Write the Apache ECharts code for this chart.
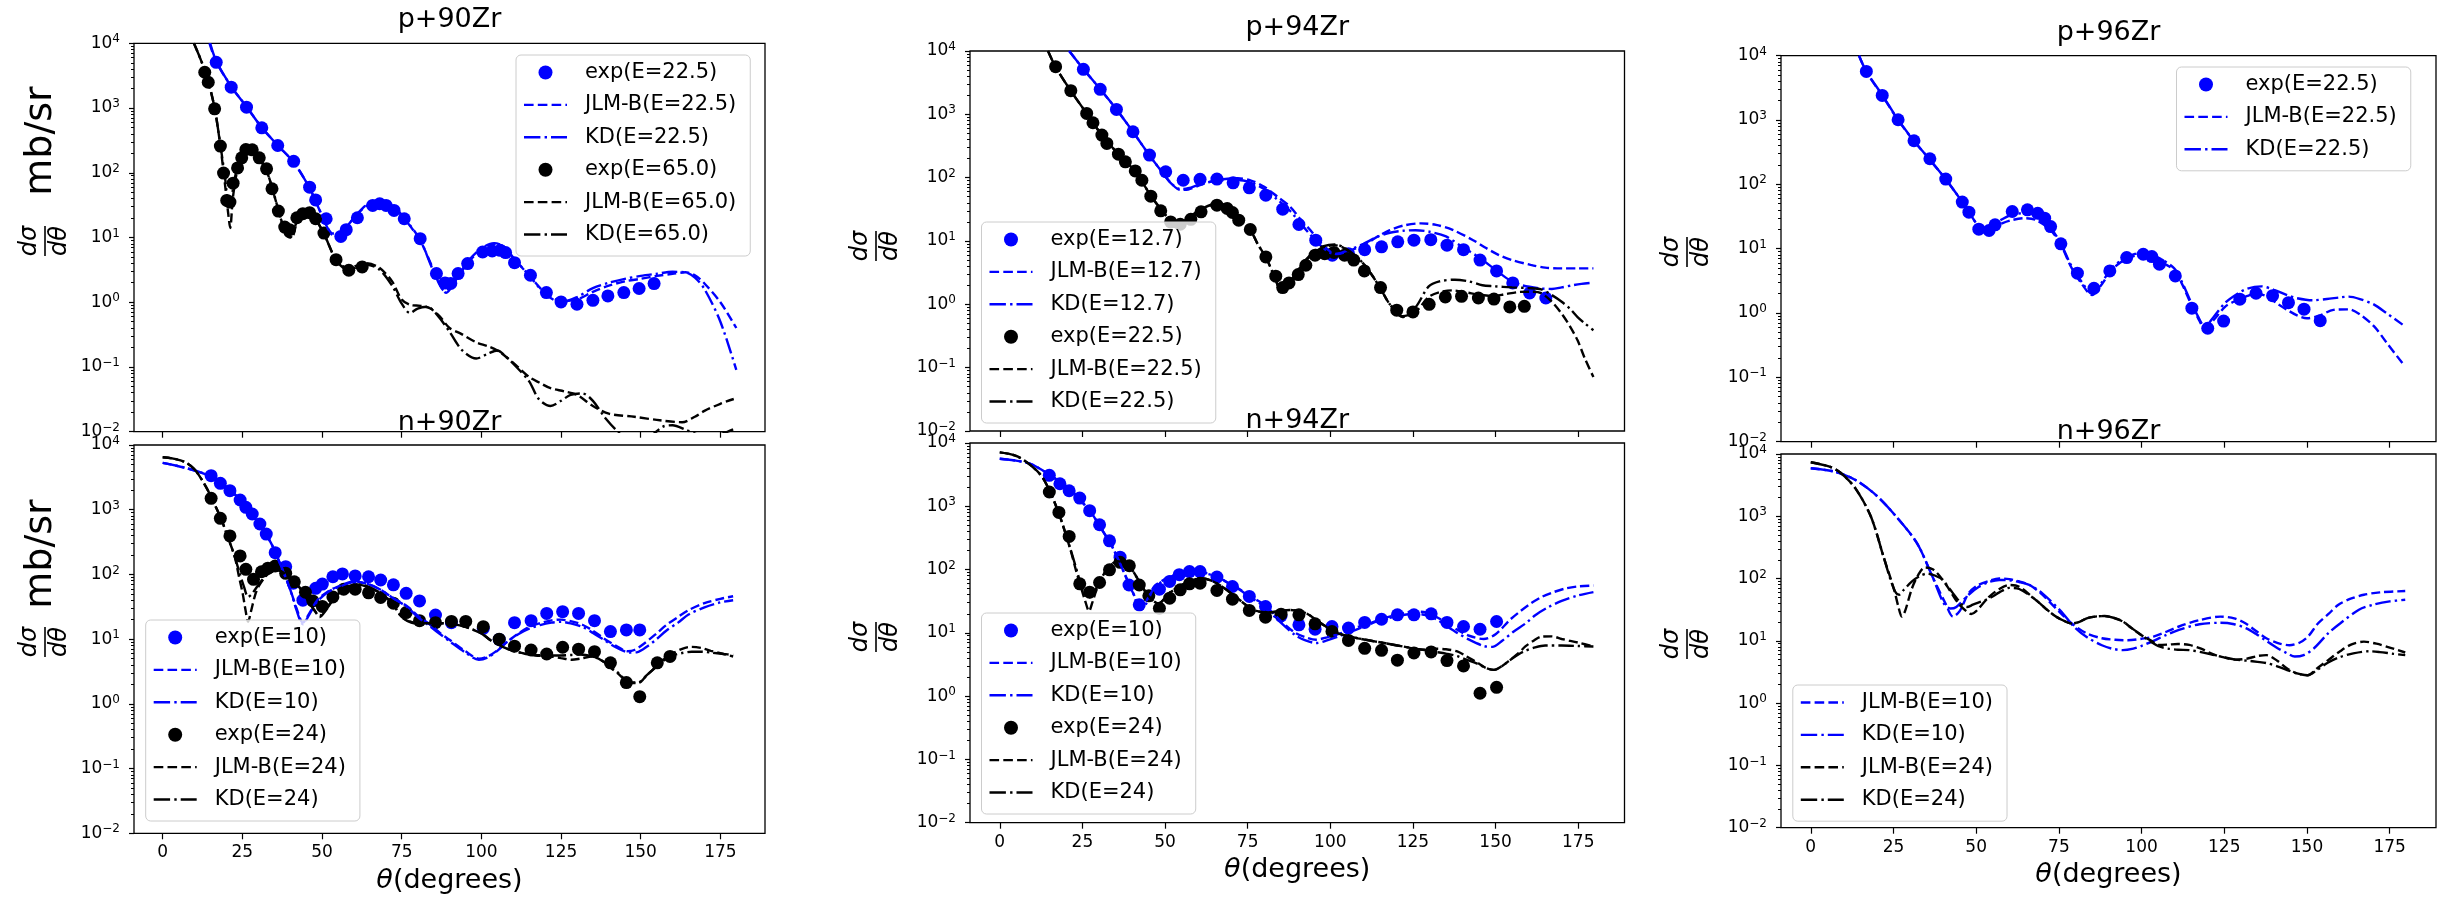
<!DOCTYPE html>
<html><head><meta charset="utf-8">
<script src="https://cdn.jsdelivr.net/npm/echarts@6/dist/echarts.min.js"></script>
<style>html,body{margin:0;padding:0;background:#fff}#c{width:2445px;height:900px}</style>
</head><body><div id="c"></div>
<script>
// ---------------- DATA ----------------
const X_TICKS = [0, 25, 50, 75, 100, 125, 150, 175];
const Y_MINOR_TICKS = [0.02,0.03,0.04,0.05,0.06,0.07,0.08,0.09,0.2,0.3,0.4,0.5,0.6,0.7,0.8,0.9,2,3,4,5,6,7,8,9,20,30,40,50,60,70,80,90,200,300,400,500,600,700,800,900,2000,3000,4000,5000,6000,7000,8000,9000];
const PANEL_TITLES = ['p+90Zr', 'p+94Zr', 'p+96Zr', 'n+90Zr', 'n+94Zr', 'n+96Zr'];

// p+90Zr
const p90_exp_E22_5 = [[16.8,5090],[21.5,2100],[26.3,1030],[31.1,494],[36.1,264],[41.1,150],[46.1,60],[48.0,38],[51.3,19.5],[55.9,10.4],[57.6,13.2],[61.1,20.2],[65.9,31.3],[68.1,33.2],[70.1,31.3],[72.6,26.2],[75.8,19.5],[80.8,9.6],[85.9,2.77],[88.6,1.99],[90.4,1.95],[92.7,2.77],[95.7,3.95],[100.4,5.97],[103.4,6.19],[105.9,6.34],[107.6,5.84],[110.4,4.09],[115.4,2.61],[120.4,1.41],[125.0,1.01],[130.0,0.93],[135.0,1.07],[139.7,1.25],[144.7,1.41],[149.5,1.63],[154.2,1.94]];
const p90_jlm_E22_5 = [[14.7,10000],[16.8,5200],[21.5,2150],[26.3,1050],[31.1,500],[36.1,265],[41.1,145],[46.1,58],[50,22],[53.5,11.5],[56,12],[60,20],[64,31],[68.4,36],[72,31],[76,19],[80.8,9],[85,3.2],[89,1.4],[92,2.2],[96,4.2],[100,6.5],[104,8],[107,7.2],[110,4.8],[115,2.6],[120,1.4],[125,1.05],[130,1.1],[135,1.45],[140,1.8],[145,2.1],[150,2.3],[155,2.55],[160,2.75],[164,2.9],[167,2.6],[170,1.95],[175,1.0],[180,0.4]];
const p90_kd_E22_5 = [[14.9,10000],[16.8,5300],[21.5,2150],[26.3,1050],[31.1,500],[36.1,265],[41.1,145],[46.1,58],[50,22],[53.5,11],[56,11.8],[60,20],[64,32],[68.4,37],[72,32],[76,19.5],[80.8,9.2],[85,3.0],[88.5,1.5],[92,2.3],[96,4.4],[100,6.8],[104,8.2],[107,7.3],[110,4.9],[115,2.6],[120,1.35],[125,1.0],[130,1.2],[135,1.65],[140,2.0],[145,2.3],[150,2.55],[155,2.75],[160,2.95],[164,2.9],[167,2.4],[170,1.6],[175,0.5],[180,0.09]];
const p90_exp_E65_0 = [[13.2,3570],[14.3,2500],[16.3,971],[18.1,258],[19.1,99],[20.1,37.4],[21.1,35.3],[22.1,69],[23.5,119],[24.8,170],[26.1,229],[28.1,226],[30.3,170],[32.6,115],[34.3,56.6],[36.3,25.6],[38.3,14.5],[39.8,13.2],[42.1,20.2],[44.0,23.3],[46.1,24.2],[48.0,19.5],[50.6,11.7],[54.4,4.55],[58.4,3.12],[62.6,3.51]];
const p90_jlm_E65_0 = [[9.8,10000],[12,5500],[14,2900],[16.3,1000],[18.1,260],[19.5,70],[20.5,25],[21.2,14],[22,40],[23.5,115],[25,180],[27,230],[29,210],[31,150],[33,95],[35,45],[37,20],[39,11],[40.5,10],[42,16],[44,22],[46,23],[48,19],[50.6,11.5],[54.4,4.6],[58,3.4],[62,3.8],[64,4.0],[68,3.4],[72,2.1],[75,1.1],[78,0.9],[81,0.88],[84,0.8],[87,0.6],[90,0.4],[93.4,0.33],[98.4,0.24],[102,0.21],[105,0.18],[108,0.14],[111,0.105],[115,0.07],[118,0.058],[121.7,0.047],[126,0.042],[130,0.037],[135,0.025],[140,0.019],[148,0.017],[156,0.015],[163,0.014],[167,0.017],[170,0.021],[175,0.027],[179.2,0.032]];
const p90_kd_E65_0 = [[9.8,10000],[12,5500],[14,2900],[16.3,1000],[18.1,270],[19.5,90],[20.7,35],[21.5,40],[23,100],[25,180],[27,235],[29,215],[31,150],[33,95],[35,45],[37,20],[38.5,11],[40,10],[42,17],[44,23],[46,24],[48,19],[50.6,11.5],[54.4,4.5],[58,3.2],[62,3.6],[64,3.8],[68,3.2],[72,1.8],[75,0.95],[77.6,0.68],[80,0.8],[83,0.85],[86,0.65],[90,0.35],[94,0.18],[98.4,0.135],[102,0.16],[105,0.18],[108,0.14],[111,0.1],[115,0.06],[118,0.032],[121.7,0.025],[125,0.03],[128,0.037],[131.7,0.039],[135,0.03],[139,0.016],[143.4,0.0095],[148,0.007],[153,0.0085],[157,0.012],[160,0.0126],[164,0.0108],[168,0.009],[172,0.0085],[176,0.0095],[179.2,0.011]];

// p+94Zr
const p94_exp_E12_7 = [[25.3,5130],[30.4,2480],[35.3,1197],[40.3,531],[45.3,227],[50.2,124],[55.5,91],[60.6,94],[65.7,95],[70.6,83],[75.5,69],[80.5,53],[85.6,31.8],[90.5,18.2],[95.6,10.3],[100.6,5.97],[105.5,6.3],[110.4,7.3],[115.5,8.1],[120.4,9.7],[125.3,10.3],[130.4,10.5],[135.3,8.6],[140.3,7.3],[145.3,5.0],[150.3,3.37],[155.2,2.18],[160.3,1.51],[165.2,1.26]];
const p94_jlm_E12_7 = [[21,10000],[25.3,5200],[30.4,2500],[35.3,1200],[40.3,530],[45.3,225],[49.8,110],[52,80],[54.6,64],[57,65],[61,78],[66,92],[72,98],[76,90],[80,72],[84,50],[87.8,35],[91,22],[94,14.8],[97,9.5],[100,6.8],[102,6.2],[105,6.8],[110,8.5],[114,11.5],[118,14.8],[122,17.5],[127.4,19],[132,18],[137,15],[143.2,10.3],[147,7.8],[151,6],[155,5],[160.6,4.2],[165,3.8],[170,3.7],[175,3.7],[179.6,3.7]];
const p94_kd_E12_7 = [[21,10000],[25.3,5200],[30.4,2500],[35.3,1200],[40.3,530],[45.3,225],[49.8,110],[52,80],[54.6,66],[57,68],[61,80],[66,90],[72,92],[76,84],[80,66],[84,45],[87.8,30],[91,19],[94,12.5],[97,8.5],[100,6.5],[102,6.3],[105,7],[110,9],[114,11.5],[118,13.5],[122,14.5],[125.8,14.8],[130,14],[135,11.8],[140,8],[144.8,5.6],[150,3.5],[154.3,2.4],[158,2.0],[163.8,1.78],[167,1.75],[170,1.85],[173.3,2.0],[176,2.1],[179.6,2.2]];
const p94_exp_E22_5 = [[16.9,5650],[21.5,2360],[26.3,1035],[28.2,737],[30.9,470],[32.4,347],[35.9,235],[38.0,178],[41.0,128],[43.0,91],[45.7,51],[48.7,30],[51.7,20],[54.6,18.4],[57.8,22],[60.9,28.9],[65.7,36.8],[68.8,32.6],[70.4,28.2],[72.3,21.3],[75.8,15.2],[80.5,5.6],[83.5,2.78],[85.6,1.84],[87.5,2.18],[90.3,2.95],[92.6,4.14],[95.4,5.97],[98.3,6.3],[101.1,6.6],[104.3,5.97],[107.1,5.0],[110.3,3.37],[115.2,1.84],[120.1,0.81],[125.0,0.76],[129.9,1.0],[134.8,1.31],[139.7,1.34],[144.8,1.26],[149.5,1.21],[154.3,0.91],[158.7,0.93]];
const p94_jlm_E22_5 = [[14.6,10000],[16.9,5600],[21.5,2350],[26.3,1030],[30.9,470],[35.9,235],[41,125],[45.7,52],[49.8,27],[53,20],[56,21],[60,30],[65.7,39],[69,35],[72.3,23],[75.8,15],[78,9],[80.7,5.3],[83,2.8],[85.4,1.6],[88,2.2],[91,3.9],[95,6.5],[98,8],[101.3,8.6],[104,7.8],[107,6],[110,4.4],[113,2.7],[115.5,1.66],[118,1.0],[121.8,0.65],[125.8,0.76],[129.7,1.3],[133,1.55],[137,1.66],[141,1.55],[145,1.42],[149.5,1.35],[153,1.45],[157.4,1.57],[161,1.58],[163.8,1.5],[167,1.1],[170,0.71],[172.5,0.45],[174.8,0.27],[177,0.14],[179.6,0.071]];
const p94_kd_E22_5 = [[14.6,10000],[16.9,5600],[21.5,2350],[26.3,1030],[30.9,470],[35.9,235],[41,125],[45.7,52],[49.8,27],[53,16.6],[56,19],[60,28],[65.7,39],[69,35],[72.3,23],[75.8,15],[78,9],[80.7,5.3],[83,2.8],[85.4,1.57],[88,2.3],[91,4],[95,6.8],[98,8.3],[101.3,8.8],[104,8],[107,6.2],[110,4.4],[113,2.7],[115.5,1.66],[118,1.0],[121.8,0.63],[125.8,0.9],[129.7,1.9],[133,2.3],[137.7,2.45],[142,2.3],[146,2.0],[149.5,1.93],[155,1.85],[160,1.8],[163.8,1.72],[167,1.4],[170,1.1],[172.5,0.85],[174.8,0.63],[177,0.5],[179.6,0.39]];

// p+96Zr
const p96_exp_E22_5 = [[16.8,5700],[21.6,2415],[26.4,1010],[31.2,476],[36.0,250],[40.8,121],[45.8,53],[47.8,37],[50.8,20.1],[53.9,19.2],[55.7,23.5],[60.9,37.9],[65.5,40.2],[68.6,35.6],[70.7,29.8],[72.5,22.1],[75.6,11.9],[80.6,4.16],[85.6,2.43],[90.4,4.52],[95.5,7.29],[100.5,8.2],[103.1,7.55],[105.4,5.74],[110.2,3.78],[115.2,1.19],[120.0,0.58],[124.8,0.75],[129.7,1.64],[134.6,2.03],[139.6,1.86],[144.4,1.45],[149.1,1.15],[154.0,0.76]];
const p96_jlm_E22_5 = [[14.6,10000],[16.8,5600],[21.6,2400],[26.4,1000],[31.2,470],[35.2,270],[40.8,120],[44.6,65],[48,36],[50,25],[52.3,19.5],[55,21],[58,25],[61,28],[64.8,29.8],[68,28],[72.5,19.5],[75.6,11.5],[78.7,5.2],[82,2.8],[85,1.9],[88,2.8],[91,4.7],[95,6.8],[98,7.8],[101.2,8],[105,6.5],[109.8,4.7],[112,3],[114.4,1.6],[117,0.85],[119.1,0.58],[122,0.8],[125.3,1.26],[129,1.6],[132,1.85],[134.6,2.0],[138,1.8],[141,1.4],[144,1.12],[147,0.92],[150,0.83],[154,0.92],[158,1.12],[162.6,1.14],[166,0.95],[170.3,0.62],[174,0.35],[178.9,0.165]];
const p96_kd_E22_5 = [[14.6,10000],[16.8,5700],[21.6,2450],[26.4,1010],[31.2,475],[35.2,270],[40.8,120],[44.6,65],[48,36],[50,25],[52.3,20.5],[55,23],[58,29],[61,34],[64.8,35.6],[68,33],[72.5,21],[75.6,12],[78.7,5.5],[82,3],[85,2.0],[88,3],[91,5],[95,7.2],[98,8.3],[101.2,8.6],[105,7.3],[109.8,5],[112,3.2],[114.4,1.7],[117,0.9],[119.1,0.62],[122,0.9],[125.3,1.45],[129,2.0],[132,2.4],[136.2,2.6],[140,2.3],[144,1.9],[147,1.7],[151.7,1.58],[156,1.65],[160,1.75],[162.6,1.8],[166,1.65],[170.3,1.35],[174,1.0],[178.9,0.66]];

// n+90Zr
const n90_exp_E10 = [[15.2,3360],[18.1,2560],[21.1,1970],[24.3,1413],[26.1,1089],[28.1,859],[30.5,601],[32.5,421],[35.3,217],[38.6,132],[41.0,73],[44.0,40],[48.0,61],[50.1,71],[53.4,92],[56.4,102],[60.4,95],[64.6,92],[68.4,82],[72.4,69],[76.4,51],[80.6,39],[85.6,23.6],[90.6,18],[100.6,14.7],[105.6,9.9],[110.4,18],[115.6,19.3],[120.5,25],[125.5,26.6],[130.5,25],[135.5,19.3],[140.5,13.1],[145.5,13.9],[149.7,13.9]];
const n90_jlm_E10 = [[0,5300],[7.7,4360],[15.2,3240],[21.8,1900],[28.5,780],[33.5,340],[36.8,148],[40.1,57],[42,30],[44,18],[46,25],[48.5,40],[52,55],[55,65],[60,78],[64,72],[68.4,58],[72,44],[76.8,32],[80,23],[83.4,17.6],[87,12.5],[90,9.8],[95,6.5],[99.2,5.0],[102,5.4],[105,6.7],[108,9],[111.7,12.3],[115,15.5],[118.4,17.6],[122,19.5],[125,20],[128,19],[131.7,16.7],[135,13.5],[138.4,10.3],[142,8],[146,6.5],[148,6.8],[151,8.5],[155,12.3],[158,16.5],[161.7,22],[165,28],[170,36],[175,42],[179,46]];
const n90_kd_E10 = [[0,5300],[7.7,4360],[15.2,3240],[21.8,1900],[28.5,780],[33.5,340],[36.8,148],[40.1,57],[42,28],[44,17],[46,24],[48.5,38],[52,54],[55,63],[60,76],[64,72],[68.4,58],[72,44],[76.8,31],[80,22],[83.4,16.5],[87,12],[90,9.3],[95,6.2],[99.2,4.8],[102,5.2],[105,6.6],[108,9],[111.7,12],[115,14.5],[118.4,16.5],[122,18],[125,18.5],[128,17.5],[131.7,15.5],[135,12.5],[138.4,9.8],[142,7.6],[146.7,6.2],[149,6.3],[152,7.7],[155,10],[158,13.5],[161.7,18],[165,24],[170,31],[175,37],[179,40]];
const n90_exp_E24 = [[15.2,1500],[18.1,736],[21.1,393],[24.3,193],[26.1,120],[28.5,84],[31.0,110],[33.0,125],[35.3,135],[38.6,104],[41.3,77],[44.8,53],[47.1,39],[50.1,32],[53.4,45],[56.8,59],[60.4,59],[64.6,52],[68.4,44],[72.4,36],[76.4,25.7],[80.6,19.3],[85.6,18],[90.6,18.8],[95.1,18.8],[100.6,15.6],[105.6,10],[110.4,7.8],[115.6,6.8],[120.5,5.9],[125.5,7.5],[130.5,7.0],[135.5,6.4],[140.5,4.3],[145.5,2.13],[149.7,1.29],[155.2,4.3],[159.2,5.4]];
const n90_jlm_E24 = [[0,6460],[3,6200],[6.8,5500],[10,4200],[13.5,2300],[16,1300],[18.5,690],[20.5,370],[22.6,188],[24,90],[25.1,51],[26,28],[26.8,18.6],[27.8,28],[29,48],[30.1,65],[32,90],[33.5,104],[36,117],[39.3,93],[41.5,75],[43.5,58],[45.5,40],[47.6,28],[49.3,22],[51,27],[53.4,40],[56,55],[58.4,65],[61.8,69],[65,62],[68.4,51],[72,36],[75,22],[78,18.5],[80,17.6],[84,17.6],[88.4,17.6],[92,16.8],[95,15.5],[100,12.3],[103,9.5],[106.7,7.6],[110,6.6],[113.4,6.0],[117,5.6],[121.7,5.4],[125,5.1],[128.4,4.8],[131,5.0],[135,5.4],[138,4.6],[140,3.8],[143,2.9],[145,2.35],[147,2.1],[149.2,2.1],[152,2.8],[155,3.8],[157.5,5],[160,6],[163,7.1],[165.8,7.6],[169,7.3],[172,6.6],[176,5.9],[179,5.4]];
const n90_kd_E24 = [[0,6460],[3,6200],[6.8,5500],[10,4200],[13.5,2300],[16,1300],[18.5,690],[20.5,370],[22.6,190],[24,110],[25.5,65],[26.8,45],[28,50],[30.1,70],[32,92],[33.5,106],[36,117],[39.3,93],[41.5,75],[43.5,58],[45.5,40],[47.6,28],[49.3,23],[51,28],[53.4,41],[56,56],[58.4,66],[61.8,70],[65,63],[68.4,51],[72,36],[75,22],[78,18],[80,17.4],[84,17.6],[88.4,17.6],[92,16.8],[95,15.5],[100,12.3],[103,9.5],[106.7,7.6],[110,6.6],[113.4,6.0],[117,5.7],[121.7,5.6],[125,5.6],[128.4,5.7],[131,5.8],[135,5.4],[138,4.6],[140,3.9],[143,3.0],[145,2.4],[147,2.15],[149.2,2.15],[152,2.8],[155,3.8],[157.5,4.8],[160,5.6],[163,6.1],[166,6.4],[169,6.4],[172,6.2],[176,5.9],[179,5.7]];

// n+94Zr
const n94_exp_E10 = [[15.0,3080],[18.2,2270],[21.0,1760],[24.2,1350],[27.2,851],[30.2,511],[33.2,285],[36.4,157],[39.1,57],[42.2,27.7],[48.3,49],[51.4,65],[54.3,83],[57.4,93],[60.6,93],[65.7,76],[70.4,54],[75.5,37.6],[80.4,26.1],[85.1,18.6],[90.5,13.4],[95.4,11.4],[100.5,12.6],[105.5,11.9],[110.4,14.6],[115.5,16.4],[120.3,19.3],[125.3,19.3],[130.5,20],[135.3,14.6],[140.3,12.6],[145.3,11.4],[150.3,15.1]];
const n94_jlm_E10 = [[0,5640],[8.7,4800],[15,3160],[21.4,1820],[27.7,780],[31,420],[34,232],[37.2,100],[40.3,43],[42.7,28],[44.5,33],[46.7,54],[49,66],[51.4,78],[54.5,88],[57.8,93],[61.5,90],[65.7,78],[69,62],[72,51],[76,37],[80,28],[84.7,16],[89.4,10],[92.5,8.5],[95.7,7.8],[99,8.5],[103.6,10],[107.5,12],[111.6,14],[115.5,16.5],[119.5,19],[123,21],[125.8,21.7],[129,21],[132,18],[135,14.5],[138.4,11.2],[142,9],[146.4,8],[150,9.5],[154.3,16],[157.5,22],[160.6,29],[164,37],[167,43],[171,50],[174.8,54],[179.6,56]];
const n94_kd_E10 = [[0,5640],[8.7,4800],[15,3160],[21.4,1820],[27.7,780],[31,420],[34,232],[37.2,100],[40.3,43],[42.7,23],[44.5,30],[46.7,52],[49,64],[51.4,76],[54.5,86],[57.8,91],[61.5,88],[65.7,77],[69,62],[72,50],[76,36],[80,26],[84.7,15],[89.4,9.2],[92.5,7.6],[95.7,6.9],[99,7.6],[103.6,9.2],[107.5,11],[111.6,13.5],[115.5,16],[119.5,18],[123,19.5],[125.8,20],[129,19],[132,16.5],[135,13],[138.4,10],[142,7.8],[146.4,6.2],[149,6],[152,7.5],[155.5,10.5],[159,14],[162,19],[165.7,25],[170,32],[175,39],[179.6,44]];
const n94_exp_E24 = [[15.0,1680],[17.9,800],[21.0,334],[24.2,59.6],[27.2,44],[30.2,62.5],[33.2,99],[36.4,130],[39.2,115],[42.2,57],[45.1,38.5],[48.3,24.5],[51.4,35.3],[54.6,47.9],[57.4,59.6],[60.6,61],[65.7,46.8],[70.4,34.1],[75.5,22.6],[80.4,17.7],[85.1,19.7],[90.5,19.3],[95.4,13.9],[100.5,10.5],[105.5,7.6],[110.4,5.7],[115.5,5.3],[120.3,3.7],[125.3,4.8],[130.5,5.0],[135.3,3.65],[140.3,3.0],[145.3,1.11],[150.3,1.38]];
const n94_jlm_E24 = [[0,7100],[5.5,6100],[11.9,3350],[15,1800],[18.2,690],[21.4,205],[23,100],[24.5,54],[26,30],[27,22],[28,30],[29.3,48],[32.4,100],[35.6,135],[38.8,120],[41.9,69],[45.1,37.5],[48,29],[51.4,43],[56.2,61],[60.9,73],[64,67],[67.2,54],[72,35],[76.7,23],[81.5,21],[84.5,22],[87.8,23],[92.6,20.5],[97.3,14],[102,10],[108.4,8.2],[116.3,6.9],[124.2,5.8],[128,5.4],[132,5.6],[135,5.5],[138.4,5.1],[141,4.3],[144.8,3.3],[147,2.8],[149.5,2.6],[152,3],[154.3,3.7],[157,4.8],[159,6.1],[161.5,7.5],[163.8,8.7],[167,8.8],[170,8],[175,7],[179.6,6.1]];
const n94_kd_E24 = [[0,7100],[5.5,6100],[11.9,3350],[15,1800],[18.2,690],[21.4,210],[23,110],[24.5,60],[26,40],[27,36],[28,40],[29.3,52],[32.4,100],[35.6,135],[38.8,120],[41.9,69],[45.1,37.5],[48,29],[51.4,43],[56.2,61],[60.9,73],[64,67],[67.2,54],[72,35],[76.7,23],[81.5,21],[84.5,22],[87.8,23],[92.6,20.5],[97.3,14],[102,10],[108.4,8.2],[116.3,6.9],[124.2,5.8],[128,5.4],[132,5.0],[135,4.7],[138.4,4.3],[141,3.8],[144.8,3.2],[147,2.8],[149.5,2.6],[152,3],[154.3,3.7],[157,4.6],[159,5.2],[162,5.9],[165,6.3],[170,6.3],[175,6.2],[179.6,6.1]];

// n+96Zr
const n96_jlm_E10 = [[0,5890],[7.3,5200],[13.5,3830],[19.7,2190],[25.9,980],[32.1,370],[36.8,107],[40.7,40],[43,24.5],[45,30],[47.7,58],[50.5,78],[53.9,92],[57,100],[60,98],[63,90],[66.3,78],[70,55],[75.6,27.6],[79.5,18],[83.4,13.2],[88,11],[92,10.4],[95.8,10.2],[100,10.8],[103.6,11.7],[107.5,14],[111.3,17],[117.5,21.5],[123.8,24.5],[128,23],[131.5,19],[134.5,14.5],[137.7,11],[141,9.3],[144.7,8.5],[148,9.5],[150.5,12],[153.3,19],[156.5,27],[159.5,38],[163,47],[167.2,55],[172,60],[179.7,63]];
const n96_kd_E10 = [[0,5890],[7.3,5200],[13.5,3830],[19.7,2190],[25.9,980],[32.1,370],[36.8,107],[40.2,40],[42.2,33],[44,35],[47.7,55],[50.5,72],[53.9,88],[57,95],[60,94],[63,88],[66.3,78],[70,58],[75.6,30],[79.5,17],[83.4,11.5],[88,8.5],[91,7.5],[94.3,7.1],[97.5,7.5],[100,8.3],[103.6,10],[107.5,12.5],[111.3,15],[117.5,18.5],[123.8,19.5],[128,18.5],[131.5,16],[134.5,13],[137.7,10],[141,7.7],[144,6.3],[146.3,5.6],[149,5.9],[152,7.5],[156.4,13.2],[160,19],[165.7,31.6],[170,38],[175,43],[179.7,45.7]];
const n96_jlm_E24 = [[0,7360],[5.7,6270],[9,5000],[13.5,2810],[18.2,980],[22,224],[25.2,66],[26.5,35],[27.5,24.5],[28.5,30],[30.6,70],[32.5,115],[34.5,151],[37,140],[39.9,95],[42,65],[44.6,40],[47,30],[48.5,27],[50,30],[53.9,51],[57,68],[60.1,79],[63,74],[67.9,46],[71,33],[74.1,24.5],[76.5,21],[78.7,19],[81,20],[83.4,23],[86,24.5],[88.8,25],[91.5,23.5],[94.3,20.5],[97,16],[100.5,11.8],[103,10],[105.1,8.6],[108,8.7],[111,8.9],[114.4,8.6],[118,7.5],[121,6.3],[123.8,5.6],[128.4,5.0],[132,5.2],[135,5.7],[137.7,5.9],[141,4.8],[144,3.6],[147,3.0],[150.2,2.8],[153,3.6],[156.4,4.9],[160,6.8],[163.5,8.8],[167.2,9.7],[171,9],[175,7.8],[179.7,6.5]];
const n96_kd_E24 = [[0,7360],[5.7,6270],[9,5000],[13.5,2810],[18.2,980],[22,224],[24,100],[25.5,62],[26.7,55],[28,65],[30.6,90],[33,110],[35.2,120],[37.5,112],[39.9,95],[42,68],[44.6,45],[46,37],[47.2,35],[49,38],[53.9,48],[57,60],[60.1,71],[63,68],[67.9,46],[71,33],[74.1,24.5],[76.5,21],[78.7,19],[81,20],[83.4,23],[86,24.5],[88.8,25],[91.5,23.5],[94.3,20.5],[97,16],[100.5,11.8],[103,9.5],[105.1,8.2],[108,7.5],[111,7.2],[114.4,7.1],[118,6.6],[121,6.1],[123.8,5.6],[128.4,5.0],[132,4.8],[135,4.6],[137.7,4.4],[141,3.9],[144,3.4],[147,3.0],[150.2,2.8],[153,3.4],[156.4,4.5],[160,5.5],[164,6.3],[168.8,6.8],[172,6.6],[176,6.2],[179.7,5.9]];

// ---------------- STYLE / LAYOUT ----------------
const BLUE = '#0000ff', BLACK = '#000000';
const FONT = '"DejaVu Sans", sans-serif';
const X_MIN = -9, X_MAX = 189, Y_MIN = 0.01, Y_MAX = 10000;
const LW = 2.4;
const DASH = [9, 4];
const DASHDOT = [15.5, 4, 2.4, 4];
// legend handle shapes (43 x 2.4 px)
const ICON_DASH = 'path://M0,0H9.6V2.4H0Z M13.8,0H23.4V2.4H13.8Z M27.6,0H37.2V2.4H27.6Z M41.4,0H43V2.4H41.4Z';
const ICON_DASHDOT = 'path://M0,0H16.4V2.4H0Z M20.6,0H23V2.4H20.6Z M27,0H43V2.4H27Z';

const GRIDS = [
  {left: 134, top: 43.3, width: 631, height: 388.4},
  {left: 970, top: 51, width: 654.5, height: 380},
  {left: 1781, top: 55.7, width: 655, height: 386},
  {left: 134, top: 445, width: 631, height: 388.3},
  {left: 970, top: 443, width: 654.5, height: 379.7},
  {left: 1781, top: 454, width: 655, height: 373.7}
];
const LEGEND_POS = [
  {left: 516, top: 55}, {left: 981.5, top: 222}, {left: 2176.5, top: 67},
  {left: 145.7, top: 620}, {left: 981.5, top: 613}, {left: 1792.8, top: 685}
];

const PANELS = [
  [['exp(E=22.5)', p90_exp_E22_5, 'exp', BLUE], ['JLM-B(E=22.5)', p90_jlm_E22_5, 'jlm', BLUE], ['KD(E=22.5)', p90_kd_E22_5, 'kd', BLUE],
   ['exp(E=65.0)', p90_exp_E65_0, 'exp', BLACK], ['JLM-B(E=65.0)', p90_jlm_E65_0, 'jlm', BLACK], ['KD(E=65.0)', p90_kd_E65_0, 'kd', BLACK]],
  [['exp(E=12.7)', p94_exp_E12_7, 'exp', BLUE], ['JLM-B(E=12.7)', p94_jlm_E12_7, 'jlm', BLUE], ['KD(E=12.7)', p94_kd_E12_7, 'kd', BLUE],
   ['exp(E=22.5)', p94_exp_E22_5, 'exp', BLACK], ['JLM-B(E=22.5)', p94_jlm_E22_5, 'jlm', BLACK], ['KD(E=22.5)', p94_kd_E22_5, 'kd', BLACK]],
  [['exp(E=22.5)', p96_exp_E22_5, 'exp', BLUE], ['JLM-B(E=22.5)', p96_jlm_E22_5, 'jlm', BLUE], ['KD(E=22.5)', p96_kd_E22_5, 'kd', BLUE]],
  [['exp(E=10)', n90_exp_E10, 'exp', BLUE], ['JLM-B(E=10)', n90_jlm_E10, 'jlm', BLUE], ['KD(E=10)', n90_kd_E10, 'kd', BLUE],
   ['exp(E=24)', n90_exp_E24, 'exp', BLACK], ['JLM-B(E=24)', n90_jlm_E24, 'jlm', BLACK], ['KD(E=24)', n90_kd_E24, 'kd', BLACK]],
  [['exp(E=10)', n94_exp_E10, 'exp', BLUE], ['JLM-B(E=10)', n94_jlm_E10, 'jlm', BLUE], ['KD(E=10)', n94_kd_E10, 'kd', BLUE],
   ['exp(E=24)', n94_exp_E24, 'exp', BLACK], ['JLM-B(E=24)', n94_jlm_E24, 'jlm', BLACK], ['KD(E=24)', n94_kd_E24, 'kd', BLACK]],
  [['JLM-B(E=10)', n96_jlm_E10, 'jlm', BLUE], ['KD(E=10)', n96_kd_E10, 'kd', BLUE],
   ['JLM-B(E=24)', n96_jlm_E24, 'jlm', BLACK], ['KD(E=24)', n96_kd_E24, 'kd', BLACK]]
];

// ---------------- BUILD ----------------
const grid = [], xAxis = [], yAxis = [], yAxisMinor = [], series = [], legend = [], graphicEls = [];

function supLabel(v) {
  const e = Math.round(Math.log10(v));
  return '{b|10}{s|' + (e < 0 ? '\u2212' + (-e) : String(e)) + '}';
}

PANELS.forEach((panel, i) => {
  const g = GRIDS[i];
  const bottomRow = i >= 3;
  grid.push(Object.assign({show: true, borderColor: '#000', borderWidth: 1.3, backgroundColor: 'transparent', containLabel: false, outerBoundsMode: 'none'}, g));
  const xLabel = bottomRow
    ? {show: true, customValues: X_TICKS, fontSize: 17, color: '#000', fontFamily: FONT, margin: 11}
    : {show: false};
  xAxis.push({
    type: 'value', gridIndex: i, min: X_MIN, max: X_MAX, position: 'bottom',
    axisLine: {show: false, onZero: false},
    axisTick: {show: true, length: 6, customValues: X_TICKS, lineStyle: {color: '#000', width: 1.2}},
    axisLabel: xLabel,
    splitLine: {show: false},
    name: bottomRow ? '{it|\u03b8}(degrees)' : '',
    nameLocation: 'middle', nameGap: 34,
    nameTextStyle: {fontSize: 27, color: '#000', fontFamily: FONT, rich: {it: {fontSize: 27, fontStyle: 'italic', color: '#000', fontFamily: FONT}}}
  });
  yAxis.push({
    type: 'log', gridIndex: i, min: Y_MIN, max: Y_MAX, logBase: 10, position: 'left',
    axisLine: {show: false, onZero: false},
    axisTick: {show: true, length: 5, lineStyle: {color: '#000', width: 1.2}},
    axisLabel: {
      show: true, margin: 14, showMinLabel: true, showMaxLabel: true,
      formatter: supLabel,
      rich: {
        b: {fontSize: 17, lineHeight: 20, color: '#000', fontFamily: FONT},
        s: {fontSize: 12, lineHeight: 14, verticalAlign: 'top', color: '#000', fontFamily: FONT}
      }
    },
    splitLine: {show: false}
  });
  // overlay axis carrying the minor log ticks
  yAxisMinor.push({
    type: 'log', gridIndex: i, min: Y_MIN, max: Y_MAX, logBase: 10, position: 'left', offset: 0,
    axisLine: {show: false, onZero: false},
    axisTick: {show: true, length: 3, customValues: Y_MINOR_TICKS, lineStyle: {color: '#000', width: 1}},
    axisLabel: {show: false},
    splitLine: {show: false}
  });
  const names = [];
  panel.forEach(([label, data, kind, color]) => {
    const name = label + '#' + i;
    names.push(kind === 'exp' ? {name, icon: 'circle'} : {name, icon: kind === 'jlm' ? ICON_DASH : ICON_DASHDOT});
    if (kind === 'exp') {
      series.push({type: 'scatter', name, xAxisIndex: i, yAxisIndex: i, data, symbol: 'circle', symbolSize: 13,
        itemStyle: {color, opacity: 1}, emphasis: {disabled: true}});
    } else {
      series.push({type: 'line', name, xAxisIndex: i, yAxisIndex: i, data, showSymbol: false, symbol: 'none',
        smooth: 0.3, clip: true,
        lineStyle: {color, width: LW, type: kind === 'jlm' ? DASH : DASHDOT},
        itemStyle: {color, borderWidth: 0}, emphasis: {disabled: true}});
    }
  });
  legend.push(Object.assign({
    orient: 'vertical', data: names, selectedMode: false,
    formatter: n => n.split('#')[0],
    padding: [7, 14, 11, 8], itemWidth: 43, itemHeight: 14, itemGap: 11.4,
    itemStyle: {borderWidth: 0},
    textStyle: {fontSize: 21, lineHeight: 21, color: '#000', fontFamily: FONT, padding: [0, 0, 0, 13]},
    backgroundColor: 'rgba(255,255,255,0.8)', borderColor: '#cccccc', borderWidth: 1, borderRadius: 5, z: 10
  }, LEGEND_POS[i]));

  // title
  graphicEls.push({type: 'text', x: g.left + g.width / 2, y: g.top - (bottomRow ? 22 : 23), z: 100,
    style: {text: PANEL_TITLES[i], font: '27px ' + FONT, fill: '#000', textAlign: 'center', textVerticalAlign: 'middle', align: 'center', verticalAlign: 'middle'}});
});

// y labels
const FRAC_POS = [[45, 241], [876, 246], [1687, 252], [45, 642], [876, 637], [1687, 644]];
FRAC_POS.forEach(([cx, cy]) => {
  const ts = {font: 'italic 24px ' + FONT, fill: '#000', textAlign: 'center', textVerticalAlign: 'middle', align: 'center', verticalAlign: 'middle'};
  graphicEls.push({type: 'group', x: cx, y: cy, rotation: Math.PI / 2, z: 100, children: [
    {type: 'text', x: 0, y: -15, style: Object.assign({text: 'd\u03c3'}, ts)},
    {type: 'line', shape: {x1: -15, y1: 0, x2: 15, y2: 0}, style: {stroke: '#000', lineWidth: 1.6}},
    {type: 'text', x: 0, y: 15, style: Object.assign({text: 'd\u03b8'}, ts)}
  ]});
});
[[41, 141], [41, 554]].forEach(([cx, cy]) => {
  graphicEls.push({type: 'text', x: cx, y: cy, rotation: Math.PI / 2, z: 100,
    style: {text: 'mb/sr', font: '38px ' + FONT, fill: '#000', textAlign: 'center', textVerticalAlign: 'middle', align: 'center', verticalAlign: 'middle'}});
});

const chart = echarts.init(document.getElementById('c'), null, {renderer: 'canvas', width: 2445, height: 900});
chart.setOption({
  animation: false,
  backgroundColor: '#ffffff',
  textStyle: {fontFamily: FONT, color: '#000'},
  grid, xAxis, yAxis: yAxis.concat(yAxisMinor), series, legend,
  graphic: {elements: graphicEls}
});
</script></body></html>
